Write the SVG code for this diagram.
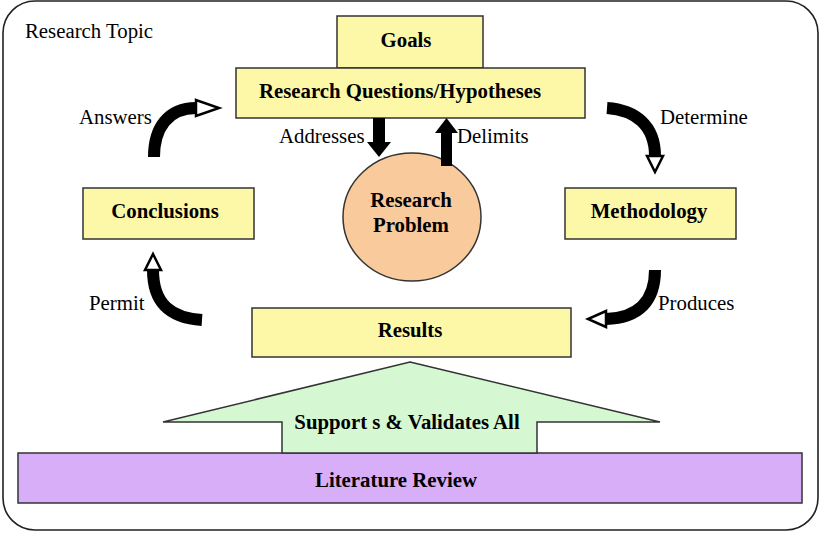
<svg xmlns="http://www.w3.org/2000/svg" width="821" height="533" viewBox="0 0 821 533">
<style>
.box{fill:#FDF8A8;stroke:#333;stroke-width:1.5}
.lbl{font-family:"Liberation Serif",serif;font-weight:bold;font-size:20.8px;fill:#000;text-anchor:middle}
.txt{font-family:"Liberation Serif",serif;font-size:20.8px;fill:#000}
.curve{fill:none;stroke:#000;stroke-width:12}
.head{fill:#fff;stroke:#000;stroke-width:2.5;stroke-linejoin:miter}
.shaft{fill:#000}
</style>
<rect x="3" y="1" width="815" height="529" rx="32" ry="32" fill="#fff" stroke="#222" stroke-width="1.6"/>
<text class="txt" x="25" y="38">Research Topic</text>

<g id="literature">
<rect x="18" y="453" width="784" height="50" fill="#D8AEF8" stroke="#333" stroke-width="1.5"/>
<text class="lbl" x="396" y="487">Literature Review</text>
</g>
<g id="supports">
<polygon points="410,362 660,422 537,422 537,453 282,453 282,422 163,422" fill="#D5F8D2" stroke="#333" stroke-width="1.5"/>
<text class="lbl" x="407" y="429">Support s &amp; Validates All</text>
</g>

<g id="goals">
<rect class="box" x="337" y="16" width="146" height="52"/>
<text class="lbl" x="406" y="47">Goals</text>
</g>
<g id="questions">
<rect class="box" x="236" y="68" width="349" height="50"/>
<text class="lbl" x="400" y="98">Research Questions/Hypotheses</text>
</g>
<g id="problem">
<ellipse cx="412" cy="217" rx="69" ry="64" fill="#F9CA9C" stroke="#333" stroke-width="1.5"/>
<text class="lbl" x="411" y="207">Research</text>
<text class="lbl" x="411" y="232">Problem</text>
</g>
<g id="conclusions">
<rect class="box" x="83" y="188" width="171" height="51"/>
<text class="lbl" x="165" y="218">Conclusions</text>
</g>
<g id="methodology">
<rect class="box" x="565" y="188" width="171" height="51"/>
<text class="lbl" x="649" y="218">Methodology</text>
</g>
<g id="results">
<rect class="box" x="252" y="308" width="319" height="49"/>
<text class="lbl" x="410" y="337">Results</text>
</g>

<g id="connectors">
<!-- Addresses -->
<rect class="shaft" x="373" y="118" width="12" height="25"/>
<polygon class="shaft" points="367,142 391,142 379,157"/>
<!-- Delimits -->
<rect class="shaft" x="441" y="131" width="11" height="35"/>
<polygon class="shaft" points="435,133 458,133 446.5,118"/>
<!-- Answers -->
<path class="curve" d="M154,157 C154,128 168,108 196,108"/>
<polygon class="head" points="196,100 196,116 219,108"/>
<!-- Determine -->
<path class="curve" d="M607,108 C635,110 655,125 655,156"/>
<polygon class="head" points="647,156 663,156 655,172"/>
<!-- Permit -->
<path class="curve" d="M202,320 C172,318 153,305 153,270"/>
<polygon class="head" points="145,270 161,270 153,254"/>
<!-- Produces -->
<path class="curve" d="M655,270 C655,300 640,318 606,319"/>
<polygon class="head" points="606,311 606,327 588,319"/>
</g>

<text class="txt" x="79" y="124">Answers</text>
<text class="txt" x="660" y="124">Determine</text>
<text class="txt" x="89" y="310">Permit</text>
<text class="txt" x="658" y="310">Produces</text>
<text class="txt" x="279" y="143">Addresses</text>
<text class="txt" x="457" y="143">Delimits</text>
</svg>
